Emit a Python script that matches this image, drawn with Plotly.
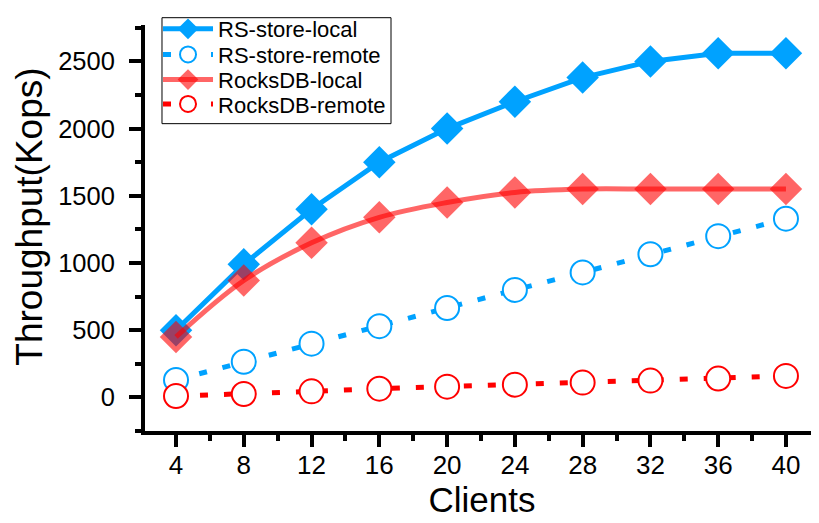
import plotly.graph_objects as go

clients = [4, 8, 12, 16, 20, 24, 28, 32, 36, 40]
rs_local = [500, 990, 1400, 1750, 2000, 2200, 2380, 2500, 2560, 2560]
rs_remote = [130, 265, 400, 530, 665, 800, 930, 1065, 1200, 1330]
rocks_local = [450, 870, 1150, 1340, 1450, 1525, 1550, 1550, 1550, 1550]
rocks_remote = [10, 25, 45, 65, 80, 95, 110, 125, 140, 160]

BLUE = "rgb(0,162,255)"
RED = "rgb(255,0,0)"
RED_T = "rgba(255,0,0,0.6)"
FONT = "Liberation Sans, Arial, sans-serif"

fig = go.Figure()
fig.add_trace(go.Scatter(
    x=clients, y=rs_local, name="RS-store-local", mode="lines+markers",
    line=dict(color=BLUE, width=5),
    marker=dict(symbol="diamond", size=25, color=BLUE, line=dict(width=0)),
    legend="legend",
))
fig.add_trace(go.Scatter(
    x=clients, y=rs_remote, name="RS-store-remote", mode="lines+markers",
    line=dict(color=BLUE, width=5, dash="8px,16px"),
    marker=dict(symbol="circle", size=24, color="white", line=dict(color=BLUE, width=2)),
    legend="legend2",
))
fig.add_trace(go.Scatter(
    x=clients, y=rocks_local, name="RocksDB-local", mode="lines+markers",
    line=dict(color=RED_T, width=5, shape="spline"),
    marker=dict(symbol="diamond", size=25, color=RED_T, line=dict(width=0)),
    legend="legend3",
))
fig.add_trace(go.Scatter(
    x=clients, y=rocks_remote, name="RocksDB-remote", mode="lines+markers",
    line=dict(color=RED, width=5, dash="8px,16px"),
    marker=dict(symbol="circle", size=24, color="white", line=dict(color=RED, width=2)),
    legend="legend4",
))

def leg(ypos):
    return dict(
        x=0.0193, y=ypos, xanchor="left", yanchor="middle",
        borderwidth=0, bgcolor="rgba(0,0,0,0)",
        font=dict(size=22, family=FONT, color="black"),
        itemwidth=50,
    )

fig.update_layout(
    width=811, height=515,
    margin=dict(l=137, r=0, t=8, b=92),
    paper_bgcolor="white", plot_bgcolor="white",
    font=dict(family=FONT, color="black"),
    showlegend=True,
    legend=leg(0.990),
    legend2=leg(0.927),
    legend3=leg(0.865),
    legend4=leg(0.805),
    shapes=[dict(
        type="rect", xref="paper", yref="paper",
        x0=0.0252, x1=0.365, y0=0.757, y1=1.018,
        line=dict(color="black", width=1), fillcolor="white", layer="above",
    )],
    annotations=[dict(
        text="Throughput(Kops)", xref="paper", yref="paper",
        x=-0.1706, y=0.528, xanchor="center", yanchor="middle",
        textangle=-90, showarrow=False,
        font=dict(size=37, family=FONT, color="black"),
    )],
    xaxis=dict(
        range=[2.17, 41.95], showgrid=False, zeroline=False,
        showline=True, linecolor="black", linewidth=4,
        tickmode="array", tickvals=clients,
        ticks="outside", ticklen=12, tickwidth=4, tickcolor="black",
        ticklabelstandoff=-4,
        tickfont=dict(size=26, family=FONT),
        minor=dict(tick0=2, dtick=2, ticks="outside", ticklen=6, tickwidth=4, tickcolor="black", showgrid=False),
        title=dict(text="Clients", font=dict(size=35, family=FONT), standoff=4),
    ),
    yaxis=dict(
        range=[-250, 2771], showgrid=False, zeroline=False,
        showline=True, linecolor="black", linewidth=4,
        tickmode="linear", tick0=0, dtick=500,
        ticks="outside", ticklen=12, tickwidth=4, tickcolor="black",
        ticklabelstandoff=9,
        tickfont=dict(size=25.5, family=FONT),
        minor=dict(tick0=0, dtick=250, ticks="outside", ticklen=6, tickwidth=4, tickcolor="black", showgrid=False),
    ),
)

fig.write_html("out.html")
